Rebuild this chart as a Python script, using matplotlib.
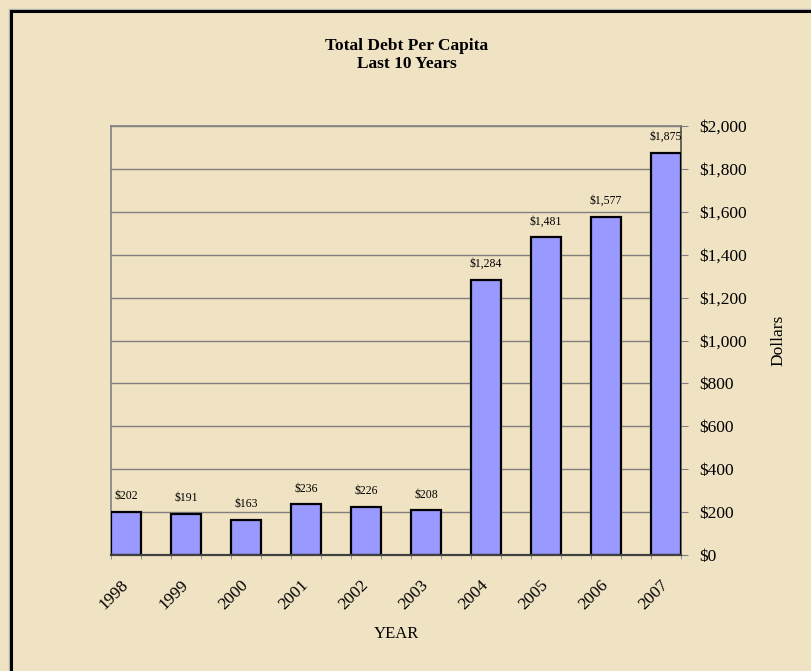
import matplotlib.pyplot as plt
import matplotlib.patches as patches
from matplotlib.ticker import FuncFormatter
import numpy as np

years = ['1998', '1999', '2000', '2001', '2002', '2003', '2004', '2005', '2006', '2007']
debt = [202, 191, 163, 236, 226, 208, 1284, 1481, 1577, 1875]

plt.rcParams['font.family'] = ['Liberation Serif', 'DejaVu Serif']

bg = '#F0E3C3'
fig = plt.figure(figsize=(8.12, 6.71), dpi=100, facecolor=bg)

# page frame
fig.patches.append(patches.Rectangle((9/812, -0.1), 1.2, 1 - 9/671 + 0.1, transform=fig.transFigure,
                                     fill=False, edgecolor='#B8B8B8', lw=1.0))
fig.patches.append(patches.Rectangle((11/812, -0.1), 1.2, 1 - 11/671 + 0.1, transform=fig.transFigure,
                                     fill=False, edgecolor='black', lw=2.2))

ax = fig.add_axes([111/812, 1 - 555/671, 570/812, 429/671])
ax.set_facecolor('none')

x = np.arange(len(years))
bars = ax.bar(x, debt, width=0.5, align='edge', color='#9999FF', edgecolor='black', lw=1.6, zorder=3)
for b, v in zip(bars, debt):
    ax.annotate('${:,}'.format(v), (b.get_x() + b.get_width() / 2, v), xytext=(0, 7),
                textcoords='offset points', ha='center', va='bottom', fontsize=8.5)

ax.set_xlim(0, 9.5)
ax.set_ylim(0, 2000)
ax.set_yticks(np.arange(0, 2001, 200))
ax.yaxis.set_major_formatter(FuncFormatter(lambda v, p: '${:,.0f}'.format(v)))
ax.yaxis.tick_right()
ax.yaxis.set_label_position('right')
ax.tick_params(axis='y', direction='out', length=5, color='#808080', labelsize=12.5, pad=8)
ax.grid(axis='y', color='#808080', lw=1, zorder=1)

ax.set_xticks(x + 0.25)
ax.set_xticklabels(years, rotation=45, ha='right', va='center', rotation_mode='anchor', fontsize=12.5)
ax.set_xticks(np.arange(0, 9.51, 0.5), minor=True)
ax.tick_params(axis='x', which='major', length=0, pad=20)
ax.tick_params(axis='x', which='minor', length=3, color='#808080')

for s in ['left', 'top']:
    ax.spines[s].set_color('#808080')
    ax.spines[s].set_linewidth(1.2)
ax.spines['right'].set_color('#505050')
ax.spines['right'].set_linewidth(1.2)
ax.spines['bottom'].set_color('#404040')
ax.spines['bottom'].set_linewidth(1.6)
ax.spines['bottom'].set_zorder(4)

ax.set_xlabel('YEAR', fontsize=12, labelpad=9)
ax.set_ylabel('Dollars', fontsize=12.5, labelpad=17)

fig.text(407/812, 1 - 55/671, 'Total Debt Per Capita\nLast 10 Years', ha='center', va='center',
         fontsize=12.5, fontweight='bold', linespacing=1.25)

fig.savefig('out.png', dpi=100, facecolor=bg)
